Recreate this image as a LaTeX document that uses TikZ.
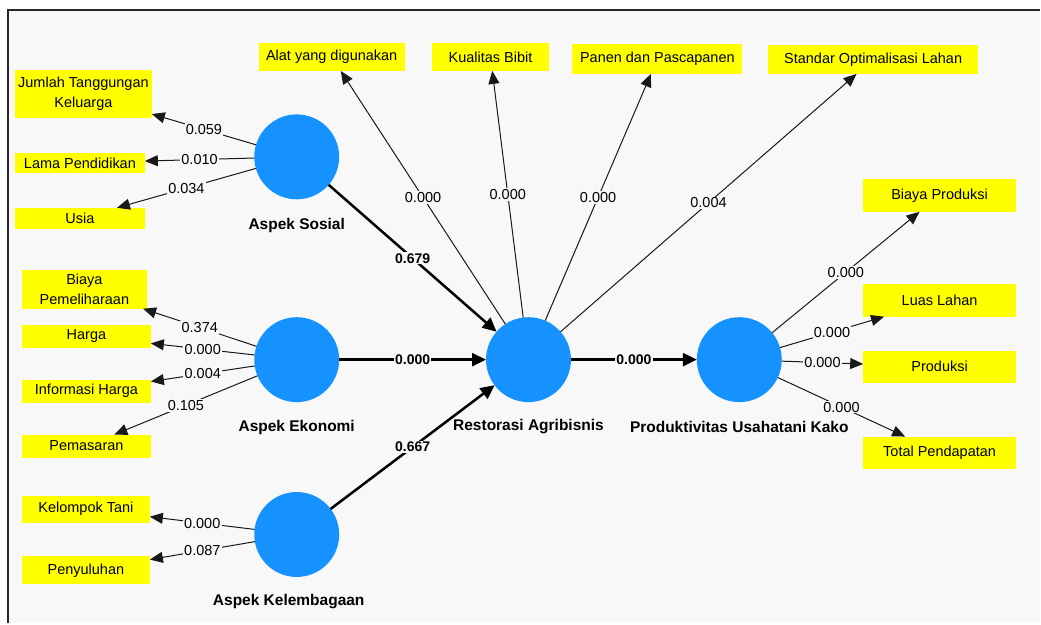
\documentclass[tikz,border=0pt]{standalone}
\usepackage{fontspec}
\setmainfont{Liberation Sans}
\usetikzlibrary{arrows.meta}
\definecolor{bg}{RGB}{248,248,248}
\definecolor{lv}{RGB}{22,146,255}
\definecolor{ind}{RGB}{255,255,0}
\begin{document}
\begin{tikzpicture}[x=1pt,y=-1pt,
 lvar/.style={circle,fill=lv,minimum size=85pt,inner sep=0pt,outer sep=0pt},
 lvlabel/.style={font=\fontsize{15.5}{18}\selectfont\bfseries,inner sep=0pt},
 indbox/.style={fill=ind,inner sep=0pt,outer sep=0pt,align=center,font=\fontsize{14.5}{19.5}\selectfont},
 meas/.style={draw=black!90,line width=1pt,-{Triangle[length=13pt,width=11pt]}},
 struct/.style={draw=black,line width=2.5pt,-{Triangle[length=14pt,width=13pt]}},
 wlab/.style={fill=bg,inner sep=1.2pt,font=\fontsize{14.5}{16}\selectfont},
 slab/.style={fill=bg,inner sep=1.2pt,font=\fontsize{14}{16}\selectfont\bfseries}]
\fill[white] (0,0) rectangle (1041,624);
\fill[bg] (8,10) rectangle (1041,624);
\draw[line width=2pt,black!85] (8,624) -- (8,10) -- (1041,10);
\useasboundingbox (0,0) rectangle (1041,624);

% latent variables
\node[lvar] (sos) at (297,157) {};
\node[lvar] (eko) at (297,360) {};
\node[lvar] (kel) at (297,535) {};
\node[lvar] (res) at (529,360) {};
\node[lvar] (pro) at (740,360) {};
\node[lvlabel] (lsos) at (297,226) {Aspek Sosial};
\node[lvlabel] (leko) at (297,428) {Aspek Ekonomi};
\node[lvlabel] (lkel) at (289,602) {Aspek Kelembagaan};
\node[lvlabel] (lres) at (529,427) {Restorasi Agribisnis};
\node[lvlabel] (lpro) at (740,427) {Produktivitas Usahatani Kako};

% indicators
\node[indbox,minimum width=137pt,minimum height=48pt] (jtk) at (83.5,94) {Jumlah Tanggungan\\Keluarga};
\node[indbox,minimum width=130pt,minimum height=20pt] (lp) at (80,163) {Lama Pendidikan};
\node[indbox,minimum width=130pt,minimum height=21pt] (usia) at (80,218.5) {Usia};
\node[indbox,minimum width=125pt,minimum height=39pt] (bp) at (84.5,289.5) {Biaya\\Pemeliharaan};
\node[indbox,minimum width=129pt,minimum height=23pt] (harga) at (86.5,336.5) {Harga};
\node[indbox,minimum width=129pt,minimum height=23pt] (ih) at (86.5,391.5) {Informasi Harga};
\node[indbox,minimum width=129pt,minimum height=23pt] (pem) at (86.5,446.5) {Pemasaran};
\node[indbox,minimum width=128pt,minimum height=27pt] (kt) at (86,509.5) {Kelompok Tani};
\node[indbox,minimum width=128pt,minimum height=28pt] (peny) at (86,571) {Penyuluhan};
\node[indbox,minimum width=146pt,minimum height=28pt] (alat) at (332,57) {Alat yang digunakan};
\node[indbox,minimum width=118pt,minimum height=28pt] (kb) at (491,57) {Kualitas Bibit};
\node[indbox,minimum width=170pt,minimum height=30pt] (pp) at (658,59) {Panen dan Pascapanen};
\node[indbox,minimum width=210pt,minimum height=29pt] (sol) at (874,59.5) {Standar Optimalisasi Lahan};
\node[indbox,minimum width=153pt,minimum height=33pt] (bpr) at (940.5,195.5) {Biaya Produksi};
\node[indbox,minimum width=153pt,minimum height=33pt] (ll) at (940.5,300.5) {Luas Lahan};
\node[indbox,minimum width=153pt,minimum height=32pt] (prod) at (940.5,367) {Produksi};
\node[indbox,minimum width=153pt,minimum height=32pt] (tp) at (940.5,453) {Total Pendapatan};

% measurement arrows
\draw[meas] (sos) -- node[wlab] {0.059} (jtk);
\draw[meas] (sos) -- node[wlab] {0.010} (lp);
\draw[meas] (sos) -- node[wlab] {0.034} (usia);
\draw[meas] (eko) -- node[wlab] {0.374} (bp);
\draw[meas] (eko) -- node[wlab] {0.000} (harga);
\draw[meas] (eko) -- node[wlab] {0.004} (ih);
\draw[meas] (eko) -- node[wlab] {0.105} (pem);
\draw[meas] (kel) -- node[wlab] {0.000} (kt);
\draw[meas] (kel) -- node[wlab] {0.087} (peny);
\draw[meas] (res) -- node[wlab] {0.000} (alat);
\draw[meas] (res) -- node[wlab] {0.000} (kb);
\draw[meas] (res) -- node[wlab] {0.000} (pp);
\draw[meas] (res) -- node[wlab] {0.004} (sol);
\draw[meas] (pro) -- node[wlab] {0.000} (bpr);
\draw[meas] (pro) -- node[wlab] {0.000} (ll);
\draw[meas] (pro) -- node[wlab] {0.000} (prod);
\draw[meas] (pro) -- node[wlab] {0.000} (tp);

% structural arrows
\draw[struct] (sos) -- node[slab] {0.679} (res);
\draw[struct] (eko) -- node[slab] {0.000} (res);
\draw[struct] (kel) -- node[slab] {0.667} (res);
\draw[struct] (res) -- node[slab] {0.000} (pro);
\end{tikzpicture}
\end{document}
